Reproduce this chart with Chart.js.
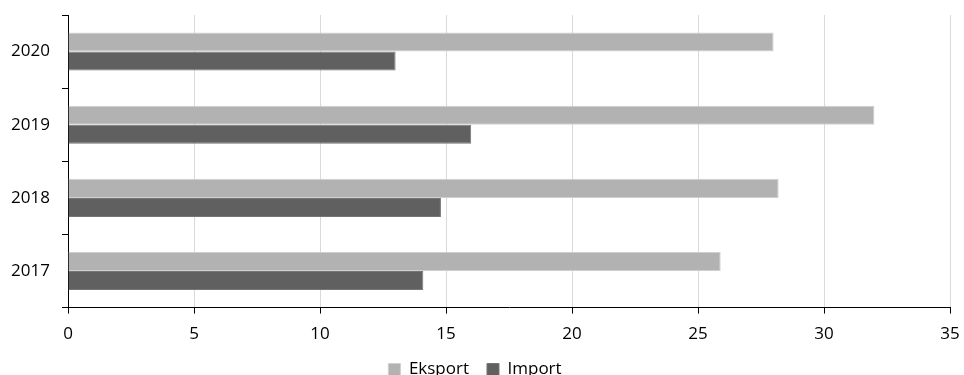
<!DOCTYPE html>
<html lang="pl">
<head>
    <meta charset="UTF-8">
    <title>Eksport i import 2017-2020</title>
    <script src="https://cdn.jsdelivr.net/npm/chart.js"></script>
    <style>
        body {
            margin: 0;
            padding: 0;
            background-color: white;
        }
        .chart-container {
            width: 964px;
            height: 375px;
        }
    </style>
</head>
<body>
    <div class="chart-container">
        <canvas id="tradeChart"></canvas>
    </div>

    <script>
        // years from top to bottom
        const years = ['2020', '2019', '2018', '2017'];
        const eksport = [28.0, 32.0, 28.2, 25.9];
        const importValues = [13.0, 16.0, 14.8, 14.1];
        const xTicks = [0, 5, 10, 15, 20, 25, 30, 35];

        const fontFamily = "'Open Sans', 'Liberation Sans', sans-serif";

        const ctx = document.getElementById('tradeChart').getContext('2d');

        new Chart(ctx, {
            type: 'bar',
            data: {
                labels: years,
                datasets: [{
                    label: 'Eksport',
                    data: eksport,
                    backgroundColor: '#b2b2b2',
                    borderColor: '#cfcfcf',
                    borderWidth: 1
                }, {
                    label: 'Import',
                    data: importValues,
                    backgroundColor: '#606060',
                    borderColor: '#767676',
                    borderWidth: 1
                }]
            },
            options: {
                indexAxis: 'y',
                responsive: true,
                maintainAspectRatio: false,
                animation: false,
                datasets: {
                    bar: {
                        barPercentage: 1.0,
                        categoryPercentage: 0.52
                    }
                },
                layout: {
                    // negative bottom pushes the legend down close to the edge
                    padding: { left: 0, right: 14, top: 15, bottom: -13 }
                },
                scales: {
                    x: {
                        min: 0,
                        max: 35,
                        afterBuildTicks: function(scale) {
                            scale.ticks = xTicks.map(v => ({ value: v }));
                        },
                        afterFit: function(scale) {
                            scale.paddingLeft = 0;
                            scale.paddingRight = 0;
                            scale.height -= 11;
                        },
                        ticks: {
                            font: { family: fontFamily, size: 17 },
                            color: '#000',
                            padding: 10
                        },
                        grid: {
                            color: '#d9d9d9',
                            tickColor: '#000',
                            tickLength: 6
                        },
                        border: {
                            display: true,
                            color: '#000',
                            width: 1
                        }
                    },
                    y: {
                        afterFit: function(scale) {
                            scale.width = 68;
                            scale.paddingTop = 0;
                            scale.paddingBottom = 0;
                        },
                        ticks: {
                            font: { family: fontFamily, size: 17 },
                            color: '#000',
                            padding: 12
                        },
                        grid: {
                            offset: true,
                            drawOnChartArea: false,
                            color: '#000',
                            tickLength: 6
                        },
                        border: {
                            display: true,
                            color: '#000',
                            width: 1
                        }
                    }
                },
                plugins: {
                    legend: {
                        position: 'bottom',
                        labels: {
                            font: { family: fontFamily, size: 17 },
                            color: '#000',
                            boxWidth: 12,
                            boxHeight: 12,
                            padding: 18
                        }
                    },
                    tooltip: { enabled: false }
                }
            }
        });
    </script>
</body>
</html>
